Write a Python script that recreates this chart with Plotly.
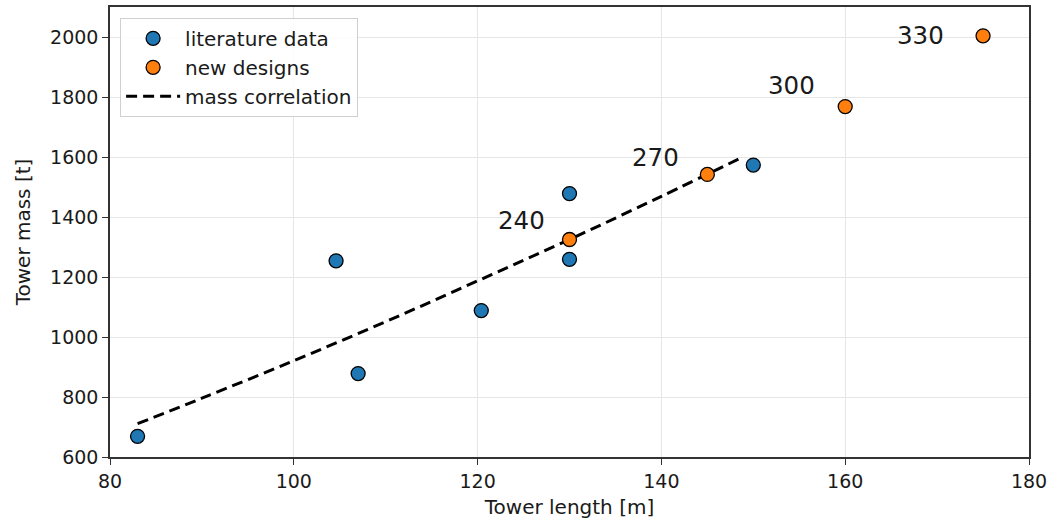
import plotly.graph_objects as go

# literature data
lit_length = [83, 104.6, 107, 120.4, 130, 130, 150]
lit_mass = [669, 1254, 878, 1088, 1478, 1259, 1573]

# new designs
new_length = [130, 145, 160, 175]
new_mass = [1325, 1542, 1768, 2004]
new_labels = ["240", "270", "300", "330"]
label_x = [124.8, 139.4, 154.2, 168.2]
label_y = [1387, 1600, 1839, 2005]

# mass correlation
corr_length = [83, 90, 100, 110, 120, 130, 140, 149]
corr_mass = [711, 796, 921, 1051, 1187, 1325, 1469, 1602]

x_ticks = [80, 100, 120, 140, 160, 180]
y_ticks = [600, 800, 1000, 1200, 1400, 1600, 1800, 2000]

FONT = "DejaVu Sans"
fig = go.Figure()

# line drawn first so that it lies beneath the markers
fig.add_trace(go.Scatter(
    x=corr_length, y=corr_mass, mode="lines", name="mass correlation",
    line=dict(color="black", width=3, dash="11px,6px", shape="spline"),
    legendrank=3,
))
fig.add_trace(go.Scatter(
    x=lit_length, y=lit_mass, mode="markers", name="literature data",
    marker=dict(color="#1f77b4", size=14, line=dict(color="black", width=1.3)),
    legendrank=1,
))
fig.add_trace(go.Scatter(
    x=new_length, y=new_mass, mode="markers", name="new designs",
    marker=dict(color="#ff7f0e", size=14, line=dict(color="black", width=1.3)),
    legendrank=2,
))

for t, xx, yy in zip(new_labels, label_x, label_y):
    fig.add_annotation(x=xx, y=yy, text=t, showarrow=False,
                       xanchor="center", yanchor="middle",
                       font=dict(family=FONT, size=24.5, color="#1a1a1a"))

fig.update_layout(
    width=1048, height=520,
    margin=dict(l=110, r=19, t=7, b=63, autoexpand=False),
    plot_bgcolor="white", paper_bgcolor="white",
    font=dict(family=FONT, size=20, color="#1a1a1a"),
    legend=dict(
        x=0.011, y=0.976, xanchor="left", yanchor="top",
        bgcolor="rgba(255,255,255,0.85)", bordercolor="#d0d0d0", borderwidth=1,
        font=dict(family=FONT, size=20, color="#1a1a1a"),
        traceorder="normal", itemwidth=54, tracegroupgap=0,
    ),
    showlegend=True,
)

fig.update_xaxes(
    range=[80, 180], tickvals=x_ticks, ticks="outside", ticklen=6, tickwidth=1.3,
    tickcolor="#333", showline=True, linecolor="#333", linewidth=1.5, mirror=True,
    showgrid=True, gridcolor="#e6e6e6", gridwidth=1, zeroline=False,
    title=dict(text="Tower length [m]", standoff=9, font=dict(size=20)),
    tickfont=dict(size=19), automargin=False,
)
fig.update_yaxes(
    range=[600, 2100], tickvals=y_ticks, ticks="outside", ticklen=6, tickwidth=1.3,
    tickcolor="#333", showline=True, linecolor="#333", linewidth=1.5, mirror=True,
    showgrid=True, gridcolor="#e6e6e6", gridwidth=1, zeroline=False,
    title=dict(text="Tower mass [t]", standoff=14, font=dict(size=20)),
    tickfont=dict(size=19), automargin=False,
)

fig.write_html("out.html")
